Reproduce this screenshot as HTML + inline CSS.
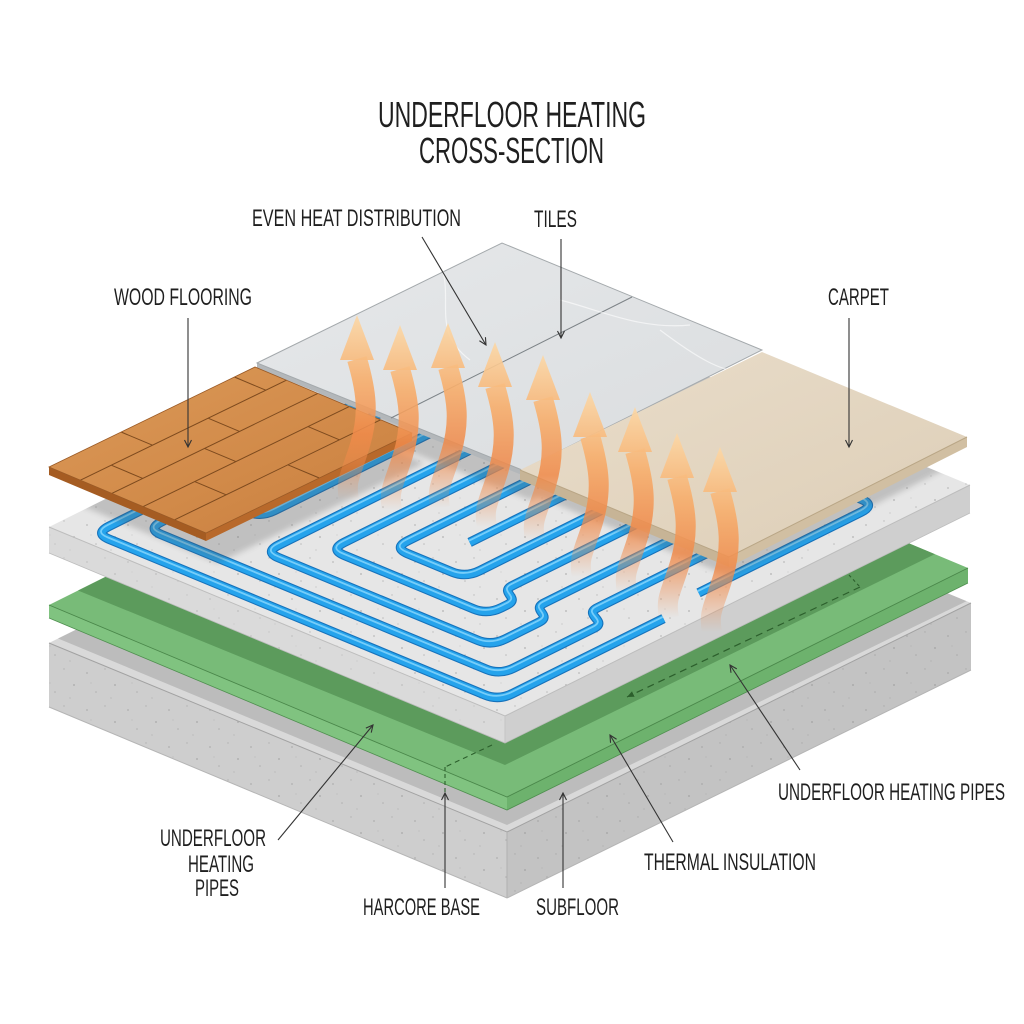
<!DOCTYPE html>
<html><head><meta charset="utf-8"><style>html,body{margin:0;padding:0;background:#fff;}svg{display:block}</style></head><body>
<svg xmlns="http://www.w3.org/2000/svg" xmlns:xlink="http://www.w3.org/1999/xlink" width="1024" height="1024" viewBox="0 0 1024 1024">
<defs>
<pattern id="sp" width="41" height="37" patternUnits="userSpaceOnUse">
<circle cx="5" cy="7" r="0.9" fill="#8f8f8f" opacity=".5"/>
<circle cx="23" cy="3" r="0.7" fill="#8f8f8f" opacity=".5"/>
<circle cx="33" cy="19" r="1" fill="#8f8f8f" opacity=".45"/>
<circle cx="14" cy="26" r="0.8" fill="#8f8f8f" opacity=".5"/>
<circle cx="29" cy="32" r="0.6" fill="#8f8f8f" opacity=".5"/>
<circle cx="9" cy="17" r="0.5" fill="#8f8f8f" opacity=".5"/>
</pattern>
<clipPath id="ct"><polygon points="49,527 514,296 970,485 505,716"/></clipPath>
<clipPath id="gt"><polygon points="49,605 508,376 968,568 507,797"/></clipPath>
<clipPath id="cct"><polygon points="49,643 513,414 971,603 507,832"/></clipPath>
<filter id="bl" x="-10%" y="-10%" width="120%" height="120%"><feGaussianBlur stdDeviation="3"/></filter>
<linearGradient id="ag" gradientUnits="userSpaceOnUse" x1="0" y1="0" x2="0" y2="185">
<stop offset="0" stop-color="#fcd8a6" stop-opacity="0.9"/>
<stop offset="0.35" stop-color="#f7ae6c" stop-opacity="0.9"/>
<stop offset="0.65" stop-color="#f08a4a" stop-opacity="0.85"/>
<stop offset="1" stop-color="#f08a4a" stop-opacity="0"/>
</linearGradient>
<linearGradient id="wg" x1="0" y1="0" x2="1" y2="1"><stop offset="0" stop-color="#dc9a58"/><stop offset="1" stop-color="#c97e3e"/></linearGradient>
<linearGradient id="tg" x1="0" y1="0" x2="1" y2="1"><stop offset="0" stop-color="#e6e8ea"/><stop offset="1" stop-color="#dadddf"/></linearGradient>
<linearGradient id="cg" x1="0" y1="0" x2="1" y2="1"><stop offset="0" stop-color="#e9ddca"/><stop offset="1" stop-color="#ddceb7"/></linearGradient>
<marker id="mk" markerWidth="10" markerHeight="10" refX="8" refY="4" orient="auto" markerUnits="userSpaceOnUse"><path d="M1,0.5 L8,4 L1,7.5" fill="none" stroke="#333" stroke-width="1.1"/></marker>
<marker id="mg" markerWidth="10" markerHeight="10" refX="7" refY="4" orient="auto" markerUnits="userSpaceOnUse"><path d="M0,1 L7,4 L0,7 Z" fill="#2c5f2c"/></marker>
<path id="p0" vector-effect="non-scaling-stroke" d="M160,770 L200,770 Q230,770 230,740 L230,80"/>
<path id="p1" vector-effect="non-scaling-stroke" d="M70,80 L70,940 Q70,970 100,970 L925,970 Q955,970 955,940 L955,615"/>
<path id="p2" vector-effect="non-scaling-stroke" d="M122,80 L122,878 Q122,908 152,908 L865,908 Q895,908 895,878 L895,705 C895,675 850,685 850,655 L850,80"/>
<path id="p3" vector-effect="non-scaling-stroke" d="M318,80 L318,818 Q318,848 348,848 L785,848 Q815,848 815,818 L815,745 C815,715 775,725 775,695 L775,80"/>
<path id="p4" vector-effect="non-scaling-stroke" d="M390,80 L390,748 Q390,778 420,778 L705,778 Q735,778 735,748 L735,735 C735,705 695,715 695,685 L695,80"/>
<path id="p5" vector-effect="non-scaling-stroke" d="M462,80 L462,682 Q462,712 492,712 L590,712 Q620,712 620,682 L620,80"/>
<path id="p6" vector-effect="non-scaling-stroke" d="M540,625 L540,80"/>
<path id="p7" vector-effect="non-scaling-stroke" d="M935,520 L935,170 Q935,140 905,140 L860,140"/>
<g id="pp">
<use xlink:href="#p0"/><use xlink:href="#p1"/><use xlink:href="#p2"/><use xlink:href="#p3"/>
<use xlink:href="#p4"/><use xlink:href="#p5"/><use xlink:href="#p6"/><use xlink:href="#p7"/>
</g>
<g id="arrow">
<path d="M0,44 C10,78 12,100 3,130 S-12,165 -8,185" fill="none" stroke="url(#ag)" stroke-width="20"/>
<path d="M0,0 L17,45 L-17,45 Z" fill="url(#ag)"/>
</g>
</defs>

<rect width="1024" height="1024" fill="#ffffff"/>

<!-- CONCRETE SUBFLOOR -->
<polygon points="49,643 513,414 971,603 507,832" fill="#d9d9d9"/>
<g clip-path="url(#cct)"><polygon points="40,612 507,806 975,578 975,597 507,825 40,631" fill="#bcbcbc"/></g>
<polygon points="49,643 507,832 507,898 49,707" fill="#cecece"/>
<polygon points="507,832 971,603 971,670 507,898" fill="#c3c3c3"/>
<polygon points="49,643 507,832 507,898 49,707" fill="url(#sp)"/>
<polygon points="507,832 971,603 971,670 507,898" fill="url(#sp)"/>
<polyline points="49,643 507,832 971,603" fill="none" stroke="#a2a2a2" stroke-width="1"/>
<line x1="507" y1="832" x2="507" y2="898" stroke="#b0b0b0" stroke-width="1"/>
<polyline points="49,707 507,898 971,670" fill="none" stroke="#b5b5b5" stroke-width="1"/>

<!-- GREEN INSULATION -->
<polygon points="49,605 508,376 968,568 507,797" fill="#78bb78"/>
<g clip-path="url(#gt)"><polygon points="40,548 505,738 980,505 980,532 505,765 40,575" fill="#5c9b5c"/></g>
<polygon points="49,605 507,797 507,810 49,618" fill="#80c380"/>
<polygon points="507,797 968,568 968,583 507,810" fill="#6db26d"/>
<polyline points="49,605 507,797 968,568" fill="none" stroke="#4a874a" stroke-width="0.9"/>
<polyline points="49,618 507,810 968,583" fill="none" stroke="#4f8f4f" stroke-width="0.8"/>
<line x1="860" y1="587" x2="627" y2="697" stroke="#2c5f2c" stroke-width="1.2" stroke-dasharray="7 5" marker-end="url(#mg)"/>
<line x1="849" y1="575" x2="860" y2="587" stroke="#2c5f2c" stroke-width="1.1" stroke-dasharray="3 3"/>
<line x1="492" y1="745" x2="445" y2="767" stroke="#2c5f2c" stroke-width="1.1" stroke-dasharray="5 4"/>
<line x1="445" y1="767" x2="445" y2="795" stroke="#2c5f2c" stroke-width="1.1" stroke-dasharray="4 3"/>

<!-- SCREED LAYER -->
<polygon points="49,527 514,296 970,485 505,716" fill="#e6e6e6"/>
<polygon points="49,527 514,296 970,485 505,716" fill="url(#sp)"/>
<polygon points="49,527 505,716 505,743 49,553" fill="#dadada"/>
<polygon points="505,716 970,485 970,513 505,743" fill="#cfcfcf"/>
<polygon points="49,527 505,716 505,743 49,553" fill="url(#sp)" opacity=".6"/>
<polyline points="49,527 505,716 970,485" fill="none" stroke="#bdbdbd" stroke-width="1"/>
<line x1="505" y1="716" x2="505" y2="743" stroke="#c4c4c4" stroke-width="1"/>
<polyline points="49,553 505,743 970,513" fill="none" stroke="#bdbdbd" stroke-width="0.8"/>

<!-- PIPES -->
<g transform="matrix(0.456,0.189,-0.465,0.231,514,296)" fill="none" stroke-linejoin="round">
<g stroke="#1672bb" stroke-width="9.5"><use xlink:href="#pp"/></g>
<g stroke="#25a3ec" stroke-width="7.3"><use xlink:href="#pp"/></g>
</g>
<g transform="translate(-0.8,-1.6)"><g transform="matrix(0.456,0.189,-0.465,0.231,514,296)" fill="none" stroke="#90dcff" stroke-width="1.8" opacity=".75"><use xlink:href="#pp"/></g></g>

<!-- SHADOWS ON SCREED -->
<g clip-path="url(#ct)"><g opacity=".26" filter="url(#bl)" fill="#555">
<polygon points="61,497 267,397 424,463 218,563"/>
<polygon points="265,393 510,273 770,380 530,500"/>
<polygon points="522,490 764,372 969,457 731,577"/>
</g></g>

<!-- TILES -->
<polygon points="257,363 522,470 522,475 257,368" fill="#b3b7ba"/>
<polygon points="257,363 502,243 762,350 522,470" fill="url(#tg)"/>
<polygon points="257,363 502,243 762,350 522,470" fill="none" stroke="#a4a9ac" stroke-width="1"/>
<line x1="632" y1="297" x2="391" y2="418" stroke="#7d8387" stroke-width="1"/>
<path d="M440,262 C455,300 430,330 470,360 M560,300 C600,310 640,330 690,325 M660,330 C700,360 720,370 740,372" fill="none" stroke="#ffffff" stroke-width="1.2" opacity=".6"/>

<!-- CARPET -->
<polygon points="520,470 729,557 729,567 520,480" fill="#c7b496"/>
<polygon points="729,557 967,437 967,447 729,567" fill="#d1bfa2"/>
<polygon points="520,470 762,352 967,437 729,557" fill="url(#cg)"/>
<polyline points="520,470 729,557 967,437" fill="none" stroke="#b9a686" stroke-width="1"/>

<!-- WOOD -->
<polygon points="49,467 206,533 206,541 49,475" fill="#a55c22"/>
<polygon points="206,533 412,433 412,441 206,541" fill="#b8692b"/>
<polygon points="49,467 255,367 412,433 206,533" fill="url(#wg)"/>
<g transform="matrix(0.206,-0.100,0.157,0.066,49,467)" fill="none" stroke="#7d4a1e" stroke-width="1">
<path vector-effect="non-scaling-stroke" d="M0,200 L1000,200 M0,400 L1000,400 M0,600 L1000,600 M0,800 L1000,800 M350,0 L350,200 M150,200 L150,400 M620,200 L620,400 M450,400 L450,600 M250,600 L250,800 M800,600 L800,800 M550,800 L550,1000 M900,0 L900,200"/>
</g>
<polygon points="49,467 255,367 412,433 206,533" fill="none" stroke="#9a5a26" stroke-width="0.8"/>

<!-- HEAT ARROWS -->
<use xlink:href="#arrow" transform="translate(357,315)"/>
<use xlink:href="#arrow" transform="translate(400,325)"/>
<use xlink:href="#arrow" transform="translate(448,323)"/>
<use xlink:href="#arrow" transform="translate(495,342)"/>
<use xlink:href="#arrow" transform="translate(543,355)"/>
<use xlink:href="#arrow" transform="translate(590,392)"/>
<use xlink:href="#arrow" transform="translate(635,407)"/>
<use xlink:href="#arrow" transform="translate(677,433)"/>
<use xlink:href="#arrow" transform="translate(720,447)"/>

<!-- LEADER LINES -->
<g stroke="#333" stroke-width="1.1" fill="none">
<line x1="188" y1="318" x2="188" y2="447" marker-end="url(#mk)"/>
<line x1="422" y1="237" x2="486" y2="345" marker-end="url(#mk)"/>
<line x1="561" y1="239" x2="561" y2="338" marker-end="url(#mk)"/>
<line x1="849" y1="318" x2="849" y2="447" marker-end="url(#mk)"/>
<line x1="800" y1="770" x2="730" y2="665" marker-end="url(#mk)"/>
<line x1="673" y1="842" x2="610" y2="735" marker-end="url(#mk)"/>
<line x1="278" y1="840" x2="373" y2="725" marker-end="url(#mk)"/>
<line x1="445" y1="888" x2="445" y2="793" marker-end="url(#mk)"/>
<line x1="563" y1="888" x2="563" y2="793" marker-end="url(#mk)"/>
</g>

<!-- TEXT -->
<g font-family="'Liberation Sans Narrow','Liberation Sans',sans-serif" fill="#1f1f1f">
<text x="378" y="127" font-size="36" textLength="268" lengthAdjust="spacingAndGlyphs">UNDERFLOOR HEATING</text>
<text x="419" y="163" font-size="36" textLength="185" lengthAdjust="spacingAndGlyphs">CROSS-SECTION</text>
<text x="252" y="226" font-size="24" textLength="209" lengthAdjust="spacingAndGlyphs">EVEN HEAT DISTRIBUTION</text>
<text x="534" y="227" font-size="24" textLength="43" lengthAdjust="spacingAndGlyphs">TILES</text>
<text x="114" y="305" font-size="24" textLength="138" lengthAdjust="spacingAndGlyphs">WOOD FLOORING</text>
<text x="828" y="305" font-size="24" textLength="61" lengthAdjust="spacingAndGlyphs">CARPET</text>
<text x="778" y="800" font-size="24" textLength="227" lengthAdjust="spacingAndGlyphs">UNDERFLOOR HEATING PIPES</text>
<text x="644" y="870" font-size="24" textLength="172" lengthAdjust="spacingAndGlyphs">THERMAL INSULATION</text>
<text x="160" y="846" font-size="24" textLength="106" lengthAdjust="spacingAndGlyphs">UNDERFLOOR</text>
<text x="188" y="872" font-size="24" textLength="66" lengthAdjust="spacingAndGlyphs">HEATING</text>
<text x="195" y="896" font-size="24" textLength="44" lengthAdjust="spacingAndGlyphs">PIPES</text>
<text x="363" y="915" font-size="24" textLength="117" lengthAdjust="spacingAndGlyphs">HARCORE BASE</text>
<text x="536" y="915" font-size="24" textLength="83" lengthAdjust="spacingAndGlyphs">SUBFLOOR</text>
</g>
</svg>
</body></html>
